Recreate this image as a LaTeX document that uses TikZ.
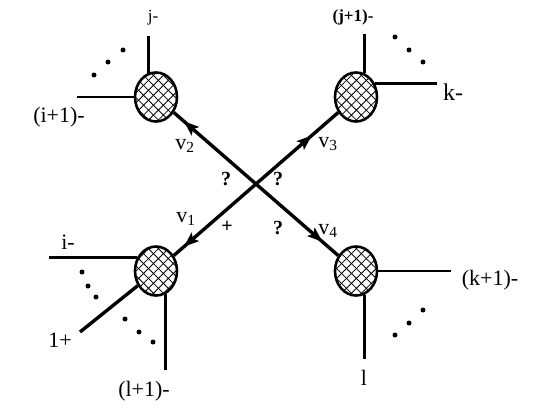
\documentclass[tikz,border=0pt]{standalone}
\usepackage{fontspec}
\setmainfont{Liberation Serif}
\usetikzlibrary{shapes.geometric,patterns.meta,decorations.markings,arrows.meta}

\begin{document}
\begin{tikzpicture}[x=1pt,y=-1pt]
    \tikzstyle{blob}=[draw=black,line width=2.6pt,ellipse,minimum width=42pt,minimum height=49pt,inner sep=0pt,
        preaction={pattern={Lines[angle=45,distance=7pt,line width=0.8pt]}},
        preaction={pattern={Lines[angle=-45,distance=7pt,line width=0.8pt]}}]
    \tikzstyle{prop}=[line width=3.4pt]
    \tikzstyle{leg}=[line width=2.6pt]
    \tikzstyle{lbl}=[inner sep=0pt,font=\fontsize{22}{22}\selectfont]
    \tikzstyle{sign}=[inner sep=0pt,font=\fontsize{20}{20}\selectfont\bfseries]
    \tikzset{arrowat/.style={postaction={decorate},decoration={markings,
        mark=at position #1 with {\arrow{Stealth[length=15pt,width=11pt,inset=3pt]}}}}}

    \useasboundingbox (0,0) rectangle (545,417);

    \node[blob] at (156,97) (bTL) {};
    \node[blob] at (356,97) (bTR) {};
    \node[blob] at (156,271) (bBL) {};
    \node[blob] at (356,271) (bBR) {};
    \coordinate (c) at (256,184);

    \draw[prop,arrowat=0.88] (c) -- (bTL);
    \draw[prop,arrowat=0.68] (c) -- (bTR);
    \draw[prop,arrowat=0.88] (c) -- (bBL);
    \draw[prop,arrowat=0.81] (c) -- (bBR);

    \draw[leg] (bTL.107) -- ++(0,-37) coordinate (eTLu);
    \draw[leg] (bTL.west) -- ++(-57,0) coordinate (eTLl);
    \draw[leg] (bTR.70) -- ++(0,-39) coordinate (eTRu);
    \draw[leg] (bTR.36) -- ++(62,0) coordinate (eTRr);
    \draw[leg] (bBL.144) -- ++(-88,0) coordinate (eBLl);
    \draw[leg] (bBL.-68) -- ++(0,76) coordinate (eBLd);
    \coordinate (eBLs) at (80,332);
    \draw[prop] (bBL) -- (eBLs);
    \draw[leg] (bBR.east) -- ++(73,0) coordinate (eBRr);
    \draw[leg] (bBR.-70) -- ++(0,64) coordinate (eBRd);

    \foreach \x/\y in {94/75,108/62,123/50, 395/37,409/50,423/62,
        82/272,88/286,96/297, 125/319,139/332,153/342, 395/335,409/323,423/310}
        \fill (\x,\y) circle (2.5);

    \node[lbl,font=\fontsize{17}{17}\selectfont] at (153,18) (lj) {j-};
    \node[lbl] at (59,117) (lip) {(i+1)-};
    \node[lbl,font=\fontsize{17}{17}\selectfont\bfseries] at (353,17) (ljp) {(j+1)-};
    \node[lbl,font=\fontsize{24}{24}\selectfont] at (453,92) (lk) {k-};
    \node[lbl] at (68,242) (li) {i-};
    \node[lbl] at (60,340) (lone) {1+};
    \node[lbl] at (144,391) (llp) {(l+1)-};
    \node[lbl] at (490,280) (lkp) {(k+1)-};
    \node[lbl] at (364,378) (ll) {l};

    \node[lbl] at (185,146) (v2) {v\textsubscript{2}};
    \node[lbl] at (328,144) (v3) {v\textsubscript{3}};
    \node[lbl] at (186,219) (v1) {v\textsubscript{1}};
    \node[lbl] at (328,231) (v4) {v\textsubscript{4}};

    \node[sign] at (226,179) (q1) {?};
    \node[sign] at (278,179) (q2) {?};
    \node[sign] at (278,228) (q3) {?};
    \node[sign] at (227,227) (pl) {+};
\end{tikzpicture}
\end{document}
